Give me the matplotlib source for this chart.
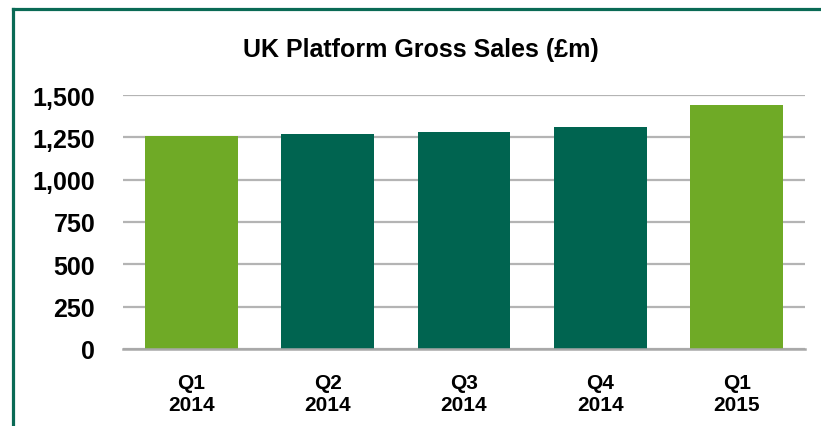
import matplotlib
matplotlib.use("Agg")
import matplotlib.pyplot as plt
from matplotlib.lines import Line2D

categories = ["Q1\n2014", "Q2\n2014", "Q3\n2014", "Q4\n2014", "Q1\n2015"]
values = [1255, 1267, 1284, 1312, 1440]
bar_colors = ["#6FAA26", "#006450", "#006450", "#006450", "#6FAA26"]
yticks = [0, 250, 500, 750, 1000, 1250, 1500]
ytick_labels = ["0", "250", "500", "750", "1,000", "1,250", "1,500"]
title = "UK Platform Gross Sales (£m)"

fig = plt.figure(figsize=(8.21, 4.27), dpi=100)
ax = fig.add_axes([123/821, 77/427, 682/821, 254/427])

x = range(len(categories))
ax.bar(x, values, width=0.68, color=bar_colors, zorder=3)
ax.set_xlim(-0.5, len(categories) - 0.5)
ax.set_ylim(0, 1500)
ax.set_yticks(yticks)
ax.set_yticklabels(ytick_labels, fontsize=18, fontweight="bold", family="Liberation Sans")
ax.set_xticks(list(x))
ax.set_xticklabels(categories, fontsize=15, fontweight="bold", family="Liberation Sans",
                   linespacing=1.25)
ax.tick_params(axis="both", length=0)
ax.tick_params(axis="y", pad=20)
ax.tick_params(axis="x", pad=17)
ax.yaxis.grid(True, color="#B4B4B4", linewidth=1.6, zorder=0)
for s in ["top", "right", "left"]:
    ax.spines[s].set_visible(False)
ax.spines["bottom"].set_color("#A8A8A8")
ax.spines["bottom"].set_linewidth(1.8)
ax.spines["bottom"].set_zorder(4)

fig.text(421/821, 1 - 57/427, title, ha="center", va="baseline", fontsize=18,
         fontweight="bold", family="Liberation Sans")

# green border (top and left)
border_color = "#0A6A55"
fig.add_artist(Line2D([13/821, 1.0], [1 - 10/427, 1 - 10/427], color=border_color,
                      linewidth=2.3, transform=fig.transFigure, solid_capstyle="projecting"))
fig.add_artist(Line2D([13/821, 13/821], [0, 1 - 10/427], color=border_color,
                      linewidth=2.3, transform=fig.transFigure, solid_capstyle="projecting"))

fig.savefig("out.png", dpi=100)
